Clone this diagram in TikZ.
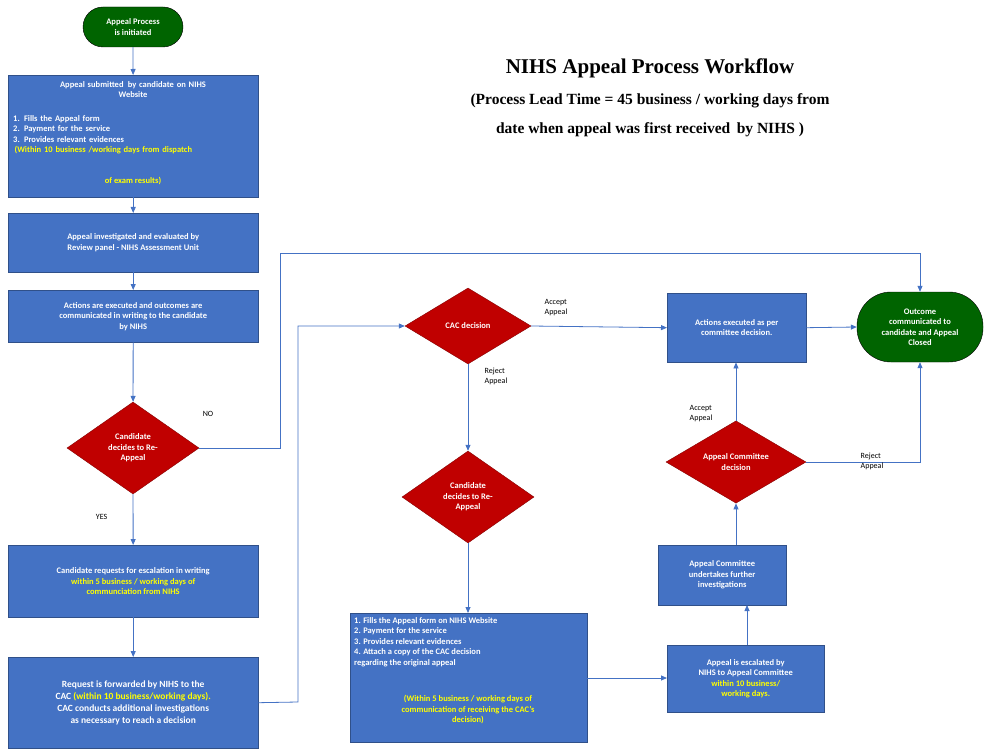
\documentclass[tikz,border=0pt]{standalone}
\usepackage{fontspec}
\setmainfont{Carlito}
\newfontfamily\titlefont{Liberation Serif}
\usetikzlibrary{shapes.geometric,arrows.meta}
\definecolor{bx}{HTML}{4472C4}
\definecolor{rd}{HTML}{C00000}
\definecolor{gr}{HTML}{006400}
\definecolor{yl}{HTML}{FFFF00}
\begin{document}
\begin{tikzpicture}[x=1pt,y=-1pt,
  box/.style={draw=bx!70!black,fill=bx,text=white,font=\bfseries\fontsize{8.5}{10.5}\selectfont,align=center,inner sep=2pt},
  dia/.style={diamond,draw=rd!70!black,fill=rd,text=white,font=\bfseries\fontsize{8.5}{10.5}\selectfont,align=center,inner sep=0pt},
  pill/.style={rounded rectangle,draw=black,fill=gr,text=white,font=\bfseries\fontsize{8.5}{10.5}\selectfont,align=center},
  ar/.style={draw=bx,thick,-{Triangle[length=6pt,width=5pt]}},
  lab/.style={font=\fontsize{8}{10}\selectfont,align=left}]
\useasboundingbox (0,0) rectangle (990,754);
\usetikzlibrary{shapes.misc}
\node[pill,minimum width=100,minimum height=40,rounded corners=20pt,rectangle] (s) at (133,27) {Appeal Process\\is initiated};
\node[box,minimum width=250,minimum height=122,anchor=north west] (b1) at (8,75) {};
\node[box,anchor=north,text width=244,align=center,draw=none,fill=none] at (133,79) {Appeal submitted \,by candidate on NIHS\\Website};
\node[box,anchor=north west,text width=244,align=left,draw=none,fill=none] at (11,113) {1. Fills the Appeal form\\2. Payment for the service\\3. Provides relevant evidences\\\textcolor{yl}{\,(Within 10 business /working days from dispatch}};
\node[box,anchor=north,draw=none,fill=none,text=yl] at (133,175) {of exam results)};
\node[box,minimum width=250,minimum height=59,anchor=north west] (b2) at (8,213) {};
\node[box,draw=none,fill=none] at (b2) {Appeal investigated and evaluated by\\Review panel - NIHS Assessment Unit};
\node[box,minimum width=250,minimum height=52,anchor=north west] (b3) at (8,290) {};
\node[box,draw=none,fill=none] at (b3) {Actions are executed and outcomes are\\communicated in writing to the candidate\\by NIHS};
\node[dia,minimum width=132,minimum height=92] (d1) at (133,448) {Candidate\\decides to Re-\\Appeal};
\node[box,minimum width=250,minimum height=72,anchor=north west] (b4) at (8,545) {};
\node[box,draw=none,fill=none] at (b4) {Candidate requests for escalation in writing\\\textcolor{yl}{within 5 business / working days of}\\\textcolor{yl}{communciation from NIHS}};
\node[box,minimum width=250,minimum height=91,anchor=north west] (b5) at (8,657) {};
\node[box,draw=none,fill=none,font=\bfseries\fontsize{9.5}{12}\selectfont] at (b5) {Request is forwarded by NIHS to the\\CAC \textcolor{yl}{(within 10 business/working days).}\\CAC conducts additional investigations\\as necessary to reach a decision};
\node[dia,minimum width=126,minimum height=76] (c) at (468,326) {CAC decision};
\node[dia,minimum width=132,minimum height=92] (d2) at (468,497) {Candidate\\decides to Re-\\Appeal};
\node[box,minimum width=237,minimum height=129,anchor=north west] (b6) at (350,613) {};
\node[box,anchor=north west,draw=none,fill=none,align=left] at (352,615) {1. Fills the Appeal form on NIHS Website\\2. Payment for the service\\3. Provides relevant evidences\\4. Attach a copy of the CAC decision\\regarding the original appeal};
\node[box,anchor=north,draw=none,fill=none,text=yl] at (468,693) {(Within 5 business / working days of\\communication of receiving the CAC's\\decision)};
\node[box,minimum width=157,minimum height=67,anchor=north west] (b7) at (667,645) {};
\node[box,draw=none,fill=none] at (b7) {Appeal is escalated by\\NIHS to Appeal Committee\\\textcolor{yl}{within 10 business/}\\\textcolor{yl}{working days.}};
\node[box,minimum width=128,minimum height=60,anchor=north west] (b8) at (658,545) {};
\node[box,draw=none,fill=none] at (b8) {Appeal Committee\\undertakes further\\investigations};
\node[dia,minimum width=140,minimum height=80] (d3) at (736,462) {Appeal Committee\\decision};
\node[box,minimum width=139,minimum height=69,anchor=north west] (b9) at (667,293) {};
\node[box,draw=none,fill=none] at (b9) {Actions executed as per\\committee decision.};
\node[pill,rectangle,rounded corners=34pt,minimum width=126,minimum height=70] (e) at (920,327) {Outcome\\communicated to\\candidate and Appeal\\Closed};
\node[font=\titlefont\bfseries\fontsize{21}{25}\selectfont] (t) at (650,68) {NIHS Appeal Process Workflow};
\node[font=\titlefont\bfseries\fontsize{15.5}{29}\selectfont,align=center] (t2) at (650,115) {(Process Lead Time = 45 business / working days from\\date when appeal was first received \,by NIHS )};
\draw[ar] (s) -- (b1);
\draw[ar] (b1) -- (b2);
\draw[ar] (b2) -- (b3);
\draw[ar] (b3) -- (d1);
\draw[ar] (d1) -- node[lab,pos=0.45,left=22pt]{YES} (b4);
\draw[ar] (b4) -- (b5);
\draw[ar] (d1.east) -- (280,448) -- (280,253) -- (920,253) -- (e.north);
\node[lab] (no) at (208,414) {NO};
\draw[ar] (b5.east) -- (298,702) -- (298,326) -- (c.west);
\draw[ar] (c.east) -- (b9.west);
\node[lab] (a1) at (556,308) {Accept\\Appeal};
\draw[ar] (c.south) -- (d2.north);
\node[lab] (r1) at (496,376) {Reject\\Appeal};
\draw[ar] (d2.south) -- (b6.north -| d2.south);
\draw[ar] (b6.east |- 0,678) -- (b7.west |- 0,678);
\draw[ar] (747,645) -- (747,605);
\draw[ar] (b8.north -| d3.south) -- (d3.south);
\draw[ar] (d3.north) -- (b9.south -| d3.north);
\node[lab] (a2) at (701,414) {Accept\\Appeal};
\draw[ar] (d3.east) -- (920,462) -- (e.south);
\node[lab] (r2) at (872,461) {Reject\\Appeal};
\draw[ar] (b9.east) -- (e.west);
\end{tikzpicture}
\end{document}
